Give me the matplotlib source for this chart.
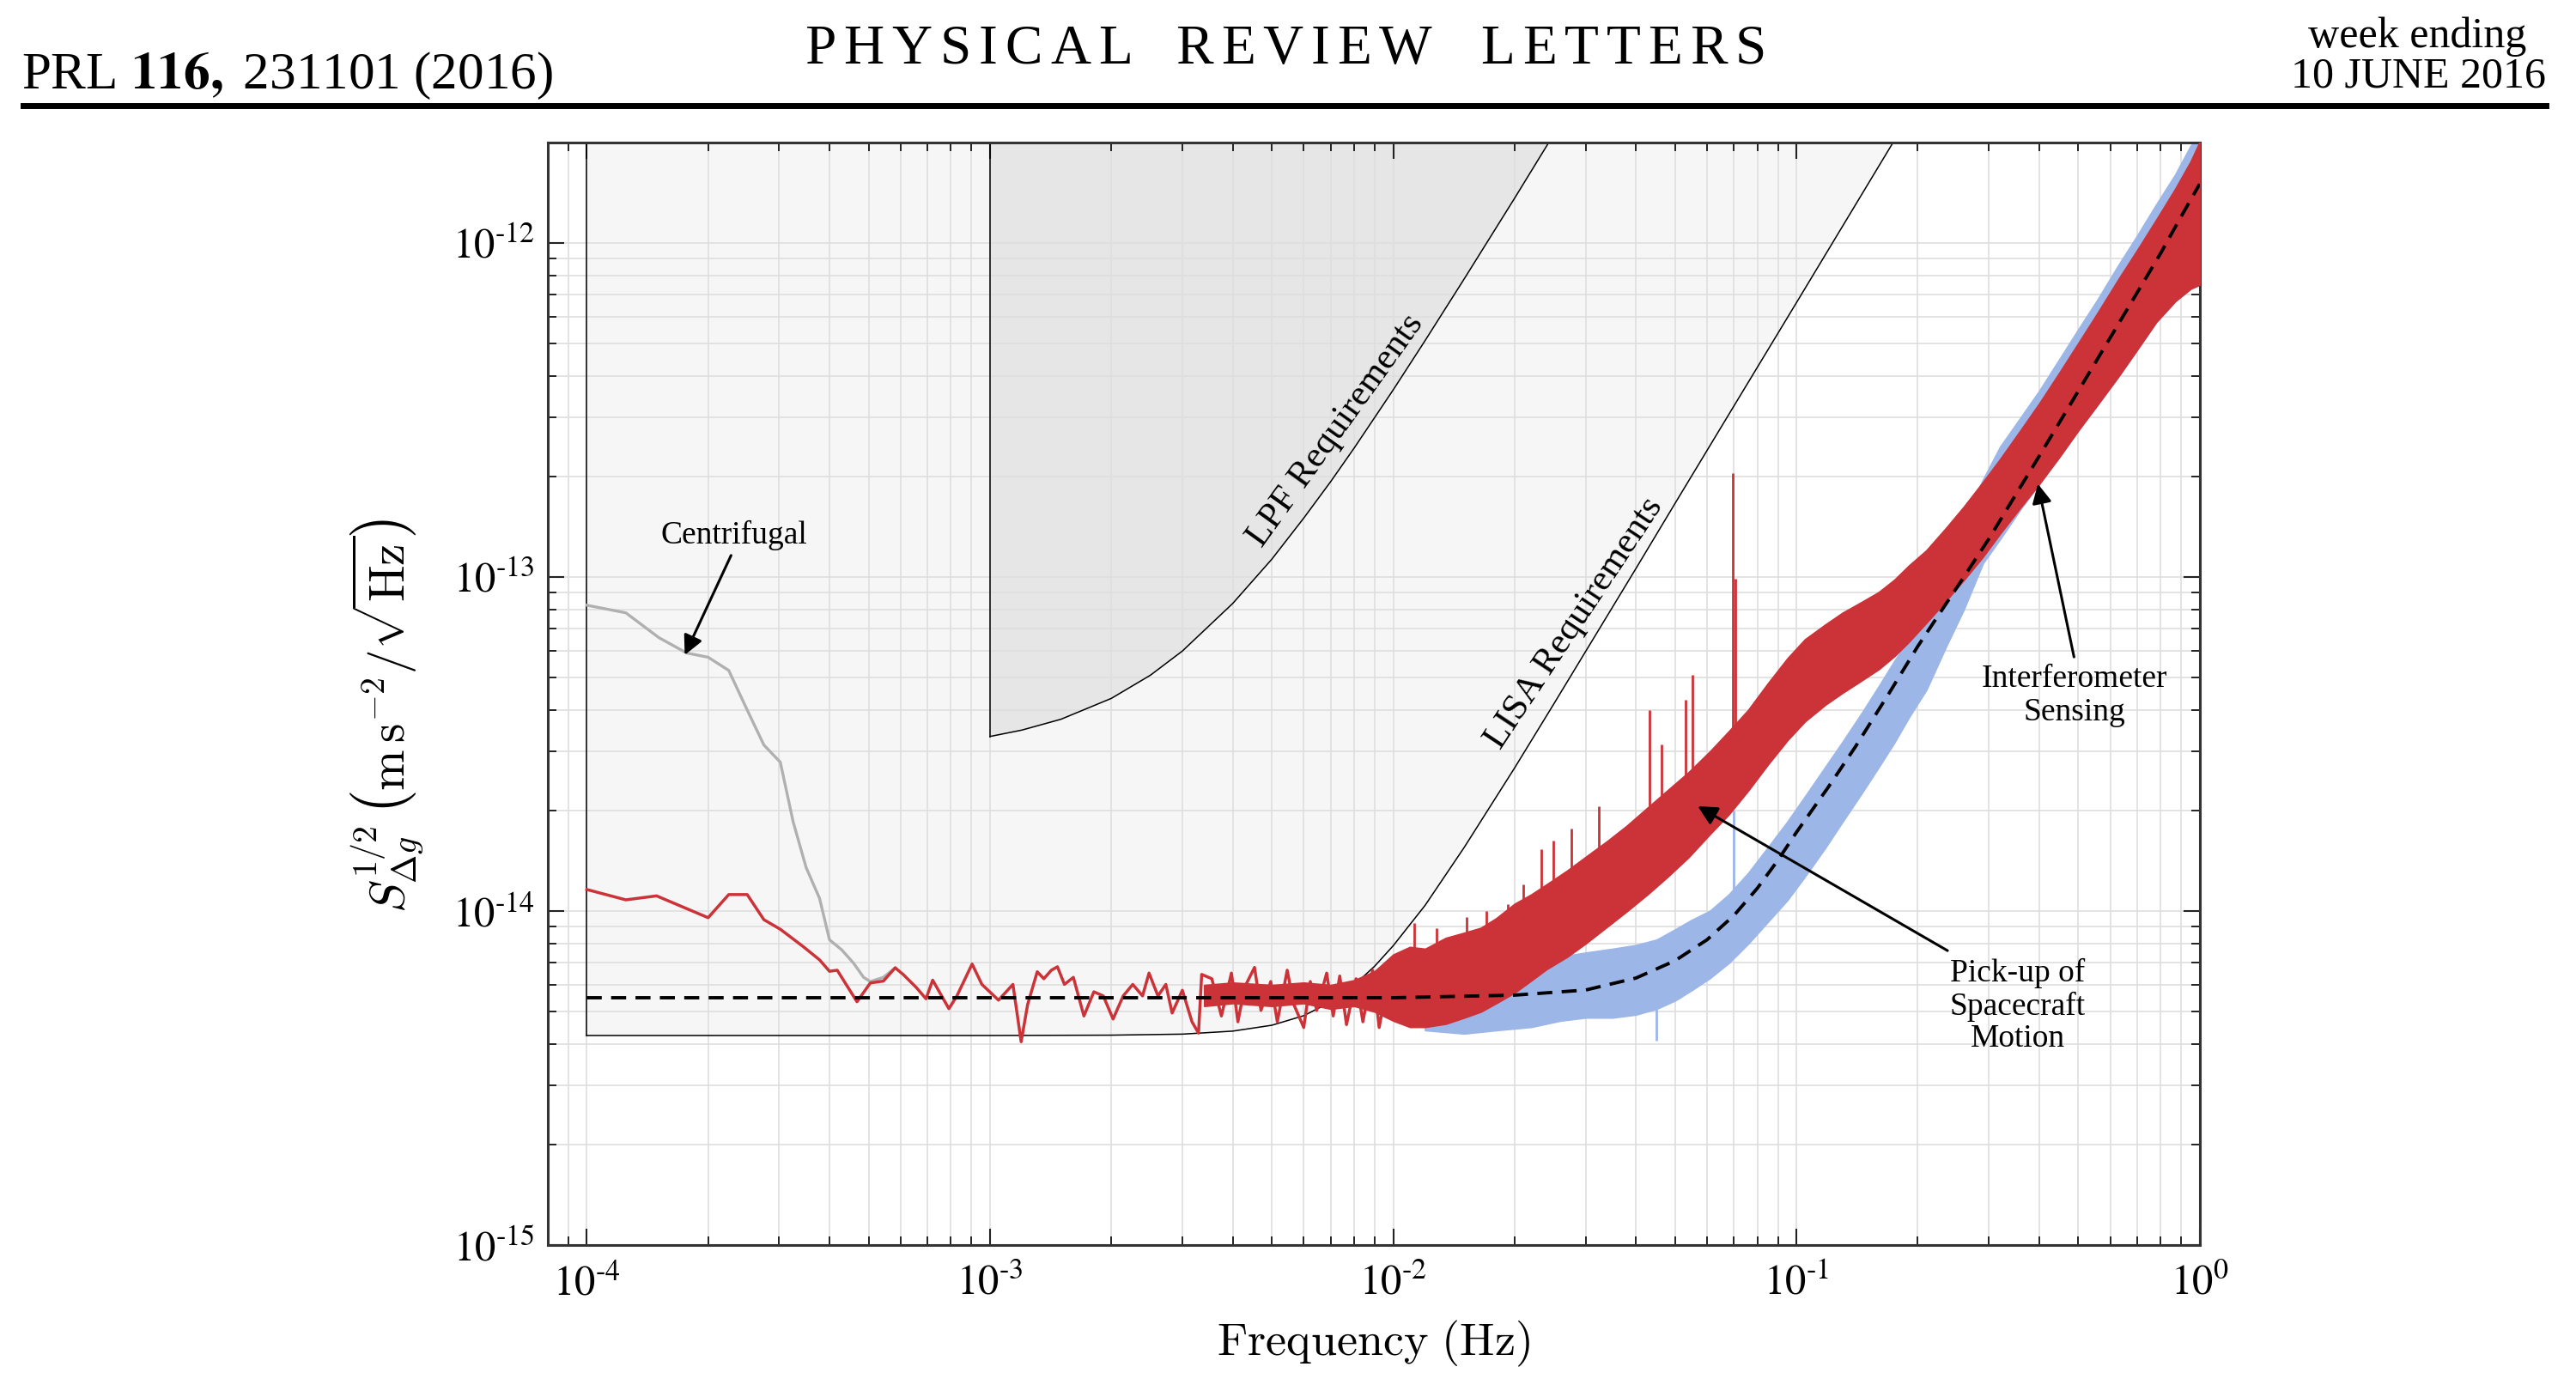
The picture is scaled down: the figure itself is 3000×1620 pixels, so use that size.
import matplotlib
matplotlib.use("Agg")
import matplotlib.pyplot as plt
from matplotlib.ticker import LogLocator, NullFormatter

plt.rcParams["mathtext.fontset"] = "stix"
plt.rcParams["font.family"] = ["Liberation Serif", "DejaVu Serif"]

# ---------------- data ----------------
# requirement curves (frequency in Hz, S^1/2 in m s^-2 / sqrt(Hz))
lisa_f = [1e-4, 1e-3, 2e-3, 3e-3, 4e-3, 5e-3, 6e-3, 7e-3, 8e-3, 9e-3, 1e-2,
          1.2e-2, 1.5e-2, 2e-2, 2.5e-2, 3e-2, 4e-2, 5e-2, 7e-2, 0.1, 0.15, 0.2]
lisa_v = [4.24e-15, 4.24e-15, 4.25e-15, 4.28e-15, 4.37e-15, 4.55e-15, 4.86e-15,
          5.34e-15, 6.0e-15, 6.84e-15, 7.87e-15, 1.04e-14, 1.55e-14, 2.68e-14,
          4.16e-14, 5.98e-14, 1.06e-13, 1.66e-13, 3.25e-13, 6.62e-13, 1.49e-12, 2.65e-12]

lpf_f = [1e-3, 1.2e-3, 1.5e-3, 2e-3, 2.5e-3, 3e-3, 4e-3, 5e-3, 6e-3, 7e-3, 8e-3,
         1e-2, 1.2e-2, 1.5e-2, 2e-2, 2.5e-2]
lpf_v = [3.33e-14, 3.48e-14, 3.75e-14, 4.33e-14, 5.08e-14, 6.0e-14, 8.33e-14,
         1.13e-13, 1.5e-13, 1.93e-13, 2.43e-13, 3.63e-13, 5.1e-13, 7.8e-13,
         1.36e-12, 2.11e-12]

# centrifugal contribution
cent_f = [1.0e-4, 1.25e-4, 1.51e-4, 1.77e-4, 2.0e-4, 2.25e-4, 2.48e-4, 2.75e-4,
          3.02e-4, 3.25e-4, 3.5e-4, 3.78e-4, 4.0e-4, 4.29e-4, 4.59e-4, 4.86e-4,
          5.05e-4, 5.44e-4, 5.82e-4]
cent_v = [8.23e-14, 7.81e-14, 6.58e-14, 5.92e-14, 5.75e-14, 5.25e-14, 4.08e-14,
          3.14e-14, 2.79e-14, 1.85e-14, 1.35e-14, 1.09e-14, 8.2e-15, 7.65e-15,
          6.98e-15, 6.33e-15, 6.15e-15, 6.33e-15, 6.76e-15]

# measured Delta g, low-frequency part (single trace)
meas_f = [1.0e-4, 1.25e-4, 1.49e-4, 2.0e-4, 2.25e-4, 2.5e-4, 2.75e-4, 3.02e-4,
          3.44e-4, 3.78e-4, 4.0e-4, 4.18e-4, 4.68e-4, 5.05e-4, 5.44e-4, 5.82e-4,
          6.09e-4, 6.56e-4, 6.94e-4, 7.21e-4, 7.91e-4, 8.28e-4, 9.03e-4, 9.55e-4,
          1.05e-3, 1.14e-3, 1.195e-3, 1.24e-3, 1.31e-3, 1.36e-3, 1.42e-3, 1.47e-3,
          1.53e-3, 1.61e-3, 1.71e-3, 1.81e-3, 1.91e-3, 2.02e-3, 2.14e-3, 2.26e-3,
          2.39e-3, 2.48e-3, 2.61e-3, 2.73e-3, 2.83e-3, 3.0e-3, 3.17e-3, 3.29e-3,
          3.35e-3, 3.55e-3, 3.75e-3, 3.97e-3, 4.12e-3, 4.28e-3, 4.53e-3, 4.70e-3,
          4.97e-3, 5.16e-3, 5.46e-3, 5.67e-3, 6.0e-3, 6.23e-3, 6.46e-3, 6.84e-3,
          7.10e-3, 7.37e-3, 7.66e-3, 8.09e-3, 8.41e-3, 8.89e-3, 9.23e-3, 9.77e-3]
meas_v = [1.16e-14, 1.08e-14, 1.11e-14, 9.55e-15, 1.12e-14, 1.12e-14, 9.42e-15,
          8.82e-15, 7.83e-15, 7.14e-15, 6.6e-15, 6.65e-15, 5.35e-15, 6.09e-15,
          6.17e-15, 6.76e-15, 6.46e-15, 5.91e-15, 5.46e-15, 6.21e-15, 5.1e-15,
          5.57e-15, 6.94e-15, 6.03e-15, 5.41e-15, 6.03e-15, 4.06e-15, 5.25e-15,
          6.58e-15, 6.27e-15, 6.65e-15, 6.81e-15, 6.03e-15, 6.33e-15, 4.85e-15,
          5.73e-15, 5.57e-15, 4.75e-15, 5.57e-15, 6.03e-15, 5.57e-15, 6.52e-15,
          5.57e-15, 6.03e-15, 4.95e-15, 5.79e-15, 4.66e-15, 4.31e-15, 6.46e-15,
          6.27e-15, 4.85e-15, 6.52e-15, 4.66e-15, 5.91e-15, 6.78e-15, 5.04e-15,
          6.15e-15, 4.66e-15, 6.65e-15, 5.25e-15, 4.48e-15, 6.15e-15, 5.04e-15,
          6.52e-15, 4.85e-15, 6.39e-15, 4.57e-15, 6.27e-15, 4.66e-15, 6.65e-15,
          4.48e-15, 6.52e-15]

# measured Delta g, dense part (lower / upper envelope of the trace)
red_f = [3.4e-3, 4e-3, 5e-3, 6e-3, 7e-3, 8e-3, 9e-3, 1.0e-2, 1.1e-2, 1.2e-2,
         1.35e-2, 1.5e-2, 1.65e-2, 1.8e-2, 2.0e-2, 2.2e-2, 2.4e-2, 2.7e-2, 3.0e-2,
         3.4e-2, 3.8e-2, 4.3e-2, 4.8e-2, 5.4e-2, 6.1e-2, 6.8e-2, 7.6e-2, 8.5e-2,
         9.5e-2, 0.105, 0.118, 0.13, 0.145, 0.16, 0.175, 0.19, 0.21, 0.235, 0.26,
         0.29, 0.32, 0.36, 0.40, 0.45, 0.50, 0.56, 0.63, 0.70, 0.78, 0.87, 0.95, 1.0]
red_lo = [5.2e-15, 5.3e-15, 5.2e-15, 5.3e-15, 5.1e-15, 5.2e-15, 5.0e-15, 4.7e-15,
          4.5e-15, 4.5e-15, 4.6e-15, 4.8e-15, 5.0e-15, 5.3e-15, 5.7e-15, 6.2e-15,
          6.7e-15, 7.3e-15, 8.0e-15, 9.0e-15, 1.0e-14, 1.13e-14, 1.27e-14, 1.45e-14,
          1.7e-14, 1.95e-14, 2.3e-14, 2.75e-14, 3.25e-14, 3.7e-14, 4.15e-14, 4.5e-14,
          4.9e-14, 5.3e-14, 5.8e-14, 6.4e-14, 7.3e-14, 8.5e-14, 9.8e-14, 1.15e-13,
          1.35e-13, 1.62e-13, 1.9e-13, 2.3e-13, 2.75e-13, 3.3e-13, 4.0e-13, 4.8e-13,
          5.8e-13, 6.7e-13, 7.3e-13, 7.5e-13]
red_hi = [6.0e-15, 6.1e-15, 6.0e-15, 6.1e-15, 6.0e-15, 6.2e-15, 6.6e-15, 7.4e-15,
          7.8e-15, 7.7e-15, 8.3e-15, 8.6e-15, 8.9e-15, 9.5e-15, 1.05e-14, 1.12e-14,
          1.2e-14, 1.32e-14, 1.45e-14, 1.62e-14, 1.8e-14, 2.05e-14, 2.3e-14, 2.6e-14,
          3.0e-14, 3.45e-14, 4.0e-14, 4.8e-14, 5.7e-14, 6.5e-14, 7.2e-14, 7.8e-14,
          8.4e-14, 9.0e-14, 9.8e-14, 1.08e-13, 1.2e-13, 1.4e-13, 1.62e-13, 1.92e-13,
          2.25e-13, 2.75e-13, 3.3e-13, 4.1e-13, 5.0e-13, 6.2e-13, 7.8e-13, 9.5e-13,
          1.17e-12, 1.45e-12, 1.75e-12, 2.0e-12]

# narrow lines sticking out of the red band: frequency, base, tip
spike_f = [1.13e-2, 1.28e-2, 1.52e-2, 1.7e-2, 1.92e-2, 2.1e-2, 2.33e-2, 2.49e-2,
           2.76e-2, 3.23e-2, 4.32e-2, 4.63e-2, 5.3e-2, 5.53e-2, 6.94e-2, 7.05e-2]
spike_lo = [7e-15, 7e-15, 8e-15, 8.5e-15, 9e-15, 1.0e-14, 1.1e-14, 1.15e-14,
            1.25e-14, 1.4e-14, 1.9e-14, 2.1e-14, 2.4e-14, 2.5e-14, 3.3e-14, 3.3e-14]
spike_hi = [9.2e-15, 8.9e-15, 9.6e-15, 1.0e-14, 1.05e-14, 1.2e-14, 1.53e-14,
            1.62e-14, 1.77e-14, 2.06e-14, 4.0e-14, 3.15e-14, 4.3e-14, 5.1e-14,
            2.05e-13, 9.9e-14]

# Delta g with spacecraft-motion pick-up subtracted (blue band)
blue_f = [1.2e-2, 1.5e-2, 1.8e-2, 2.2e-2, 2.6e-2, 3.0e-2, 3.5e-2, 4.0e-2, 4.5e-2,
          5.0e-2, 5.5e-2, 6.1e-2, 6.8e-2, 7.6e-2, 8.5e-2, 9.5e-2, 0.105, 0.118,
          0.13, 0.145, 0.16, 0.175, 0.19, 0.21, 0.235, 0.26, 0.29, 0.32, 0.36,
          0.40, 0.45, 0.50, 0.56, 0.63, 0.70, 0.78, 0.87, 0.95, 1.0]
blue_lo = [4.4e-15, 4.3e-15, 4.4e-15, 4.5e-15, 4.7e-15, 4.8e-15, 4.8e-15, 4.9e-15,
           5.1e-15, 5.4e-15, 5.8e-15, 6.3e-15, 7.0e-15, 8.0e-15, 9.3e-15, 1.08e-14,
           1.27e-14, 1.55e-14, 1.85e-14, 2.25e-14, 2.7e-14, 3.2e-14, 3.8e-14, 4.6e-14,
           6.2e-14, 8.0e-14, 1.1e-13, 1.3e-13, 1.6e-13, 1.9e-13, 2.3e-13, 2.75e-13,
           3.3e-13, 4.0e-13, 4.8e-13, 5.8e-13, 6.7e-13, 7.3e-13, 7.5e-13]
blue_hi = [6.5e-15, 6.8e-15, 6.9e-15, 7.1e-15, 7.3e-15, 7.5e-15, 7.7e-15, 7.9e-15,
           8.2e-15, 8.8e-15, 9.4e-15, 1.0e-14, 1.12e-14, 1.3e-14, 1.55e-14, 1.85e-14,
           2.2e-14, 2.7e-14, 3.2e-14, 3.9e-14, 4.7e-14, 5.6e-14, 6.5e-14, 8.0e-14,
           1.15e-13, 1.45e-13, 1.95e-13, 2.45e-13, 3.0e-13, 3.6e-13, 4.5e-13, 5.5e-13,
           6.8e-13, 8.6e-13, 1.05e-12, 1.3e-12, 1.6e-12, 1.95e-12, 2.1e-12]

# noise model (dashed)
model_f = [1e-4, 1e-2, 2e-2, 3e-2, 4e-2, 5e-2, 6e-2, 7e-2, 8e-2, 9e-2, 0.1, 0.12,
           0.14, 0.17, 0.2, 0.25, 0.3, 0.4, 0.5, 0.6, 0.7, 0.8, 0.9, 1.0]
model_v = [5.5e-15, 5.5e-15, 5.6e-15, 5.8e-15, 6.3e-15, 7.1e-15, 8.2e-15, 9.7e-15,
           1.17e-14, 1.42e-14, 1.72e-14, 2.35e-14, 3.1e-14, 4.5e-14, 6.2e-14,
           9.3e-14, 1.3e-13, 2.3e-13, 3.6e-13, 5.2e-13, 7.1e-13, 9.3e-13, 1.2e-12,
           1.5e-12]

x_ticks = [1e-4, 1e-3, 1e-2, 1e-1, 1e0]
x_tick_labels = [r"$10^{\text{-}4}$", r"$10^{\text{-}3}$", r"$10^{\text{-}2}$",
                 r"$10^{\text{-}1}$", r"$10^{0}$"]
y_ticks = [1e-15, 1e-14, 1e-13, 1e-12]
y_tick_labels = [r"$10^{\text{-}15}$", r"$10^{\text{-}14}$", r"$10^{\text{-}13}$",
                 r"$10^{\text{-}12}$"]

RED = "#cc3338"
BLUE = "#9db6e8"
XMIN, XMAX = 8e-5, 1.0
YMIN, YMAX = 1e-15, 2e-12

# ---------------- figure ----------------
fig = plt.figure(figsize=(30, 16.2), dpi=100)
ax = fig.add_axes([0.2126, 0.1049, 0.6413, 0.7928])
ax.set_xscale("log")
ax.set_yscale("log")

# requirement regions
ax.fill_between(lisa_f, lisa_v, YMAX, color="#f6f6f6", lw=0, zorder=0.1)
ax.fill_between(lpf_f, lpf_v, YMAX, color="#e6e6e6", lw=0, zorder=0.15)
ax.plot(lisa_f, lisa_v, color="black", lw=1.1, zorder=1)
ax.plot([lisa_f[0], lisa_f[0]], [lisa_v[0], YMAX], color="black", lw=1.1, zorder=1)
ax.plot(lpf_f, lpf_v, color="black", lw=1.1, zorder=1)
ax.plot([lpf_f[0], lpf_f[0]], [lpf_v[0], YMAX], color="black", lw=1.1, zorder=1)

# data
ax.plot(cent_f, cent_v, color="#b0b0b0", lw=2.4, zorder=2)
ax.fill_between(blue_f, blue_lo, blue_hi, color=BLUE, lw=1.5, ec=BLUE, zorder=2.5)
ax.vlines([7.0e-2, 4.5e-2], [9e-15, 4.1e-15], [2.0e-14, 5.5e-15], color=BLUE, lw=2,
          zorder=2.5)
ax.plot(meas_f, meas_v, color=RED, lw=2.5, zorder=3)
ax.fill_between(red_f, red_lo, red_hi, color=RED, lw=1.5, ec=RED, zorder=3)
ax.vlines(spike_f, spike_lo, spike_hi, color=RED, lw=2, zorder=3)
ax.plot(model_f, model_v, color="black", lw=2.8, ls=(0, (4.5, 2.8)), zorder=4)

ax.set_xlim(XMIN, XMAX)
ax.set_ylim(YMIN, YMAX)

# ticks and grid
ax.xaxis.set_minor_locator(LogLocator(base=10, subs=range(2, 10), numticks=50))
ax.yaxis.set_minor_locator(LogLocator(base=10, subs=range(2, 10), numticks=50))
ax.xaxis.set_minor_formatter(NullFormatter())
ax.yaxis.set_minor_formatter(NullFormatter())
ax.set_xticks(x_ticks, x_tick_labels)
ax.set_yticks(y_ticks, y_tick_labels)
ax.tick_params(which="both", direction="in", top=True, right=True,
               colors="#222222", labelcolor="black", labelsize=35)
ax.tick_params(which="major", length=14, width=1.5)
ax.tick_params(which="minor", length=7, width=1.4)
ax.tick_params(axis="x", pad=16)
ax.tick_params(axis="y", pad=11)
ax.grid(True, which="both", color="#dedede", lw=1.2)
ax.set_axisbelow(True)
for sp in ax.spines.values():
    sp.set_linewidth(2.2)
    sp.set_color("#333333")

ax.set_xlabel(r"$\mathrm{Frequency\ (Hz)}$", fontsize=39, math_fontfamily="cm",
              va="baseline")
ax.xaxis.set_label_coords(0.5, -0.0997)
ax.set_ylabel(r"$S_{\Delta g}^{1/2}\,\left(\mathrm{m\,s^{-2}}/\sqrt{\mathrm{Hz}}\right)$",
              fontsize=41, math_fontfamily="cm", va="center")
ax.yaxis.set_label_coords(-0.097, 0.48)

# annotations
arrow = dict(arrowstyle="-|>", color="black", lw=2.2, mutation_scale=34,
             shrinkA=0, shrinkB=0)
ax.annotate("", xy=(1.75e-4, 5.84e-14), xytext=(2.28e-4, 1.16e-13), arrowprops=arrow,
            zorder=5)
ax.text(2.32e-4, 1.33e-13, "Centrifugal", fontsize=27, ha="center", va="center")

ax.annotate("", xy=(5.69e-2, 2.06e-14), xytext=(0.237, 7.61e-15), arrowprops=arrow,
            zorder=5)
ax.text(0.354, 5.19e-15, "Pick-up of\nSpacecraft\nMotion", fontsize=27, ha="center",
        va="center", linespacing=1.12)

ax.annotate("", xy=(0.397, 1.9e-13), xytext=(0.488, 5.76e-14), arrowprops=arrow,
            zorder=5)
ax.text(0.488, 4.41e-14, "Interferometer\nSensing", fontsize=27, ha="center",
        va="center", linespacing=1.18)

ax.text(7.19e-3, 2.74e-13, "LPF Requirements", fontsize=31, rotation=54.3,
        ha="center", va="center", rotation_mode="anchor")
ax.text(2.81e-2, 7.25e-14, "LISA Requirements", fontsize=31, rotation=56.4,
        ha="center", va="center", rotation_mode="anchor")

# journal header
fig.text(25 / 3000, 1 - 103 / 1620, r"PRL $\mathbf{116,}\ $231101 (2016)", fontsize=44,
         ha="left", va="baseline", math_fontfamily="stix")
fig.text(2942 / 3000, 1 - 55 / 1620, "week ending", fontsize=36, ha="right",
         va="baseline")
fig.text(2965 / 3000, 1 - 102 / 1620, "10 JUNE 2016", fontsize=36, ha="right",
         va="baseline")
fig.add_artist(plt.Line2D([27 / 3000, 2965 / 3000], [1 - 123 / 1620, 1 - 123 / 1620],
                          color="black", lw=5))

# letter-spaced journal title: place each capital separately
words = ["PHYSICAL", "REVIEW", "LETTERS"]
word_gaps = [50, 56]
x0, x1 = 937, 2057
renderer = fig.canvas.get_renderer()
widths = []
for w in words:
    ws = []
    for ch in w:
        t = fig.text(0, 0, ch, fontsize=47)
        ws.append(t.get_window_extent(renderer).width)
        t.remove()
    widths.append(ws)
n_gaps = sum(len(w) - 1 for w in words)
letter_gap = (x1 - x0 - sum(sum(ws) for ws in widths) - sum(word_gaps)) / n_gaps
x = x0
for i, (w, ws) in enumerate(zip(words, widths)):
    for ch, cw in zip(w, ws):
        fig.text(x / 3000, 1 - 74 / 1620, ch, fontsize=47, ha="left", va="baseline")
        x += cw + letter_gap
    x -= letter_gap
    if i < len(word_gaps):
        x += word_gaps[i]

fig.savefig("out.png", dpi=100)
